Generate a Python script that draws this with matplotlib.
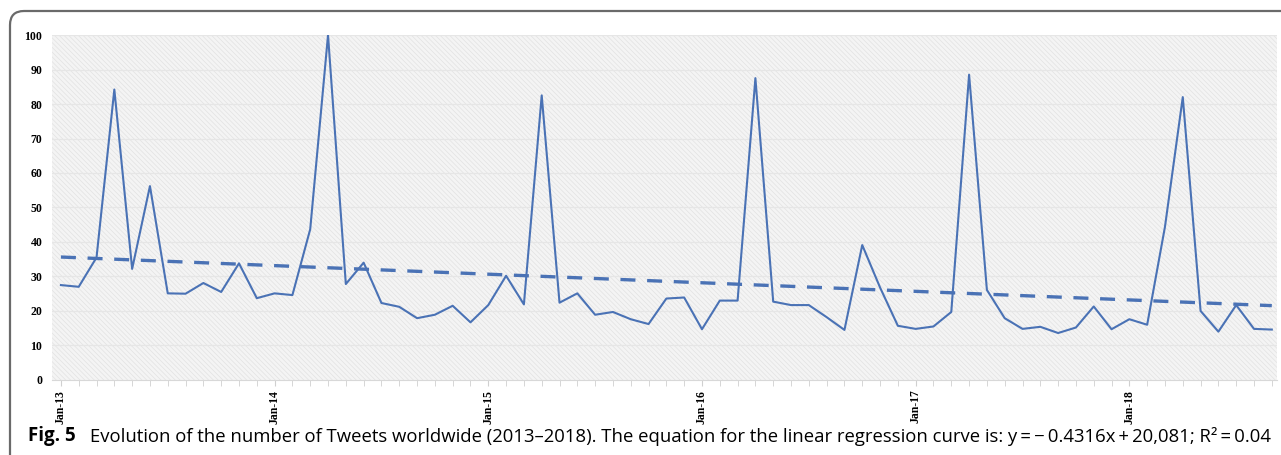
import numpy as np
import matplotlib.pyplot as plt
from matplotlib.patches import Rectangle, FancyBboxPatch
from matplotlib.transforms import IdentityTransform

# monthly values, Jan-13 .. Sep-18
tweets = [27.5, 27.0, 35.5, 84.2, 32.2, 56.2, 25.1, 25.0, 28.1, 25.5, 33.8, 23.7,
          25.1, 24.6, 43.7, 100.0, 27.8, 34.0, 22.3, 21.2, 17.9, 18.9, 21.5, 16.7,
          21.7, 30.2, 21.9, 82.5, 22.4, 25.1, 18.9, 19.7, 17.6, 16.2, 23.6, 23.9,
          14.7, 23.0, 23.0, 87.5, 22.7, 21.7, 21.7, 18.2, 14.5, 39.1, 26.8, 15.7,
          14.8, 15.5, 19.7, 88.5, 26.1, 17.9, 14.8, 15.4, 13.6, 15.2, 21.3, 14.7,
          17.6, 16.0, 44.4, 82.0, 20.0, 14.0, 21.7, 14.8, 14.6]
years = ["13", "14", "15", "16", "17", "18"]
year_labels = ["Jan-" + y for y in years]
caption_bold = "Fig. 5"
caption = ("Evolution of the number of Tweets worldwide (2013\u20132018). The equation for the "
           "linear regression curve is: y\u2009=\u2009\u2212\u20090.4316x\u2009+\u200920,081; "
           "R\u00b2\u2009=\u20090.04")

months = np.arange(len(tweets))
coef = np.polyfit(months, tweets, 1)
trend = np.polyval(coef, months)

plt.rcParams['hatch.linewidth'] = 0.5
fig = plt.figure(figsize=(12.81, 4.55), dpi=100)
ax = fig.add_axes([0.0406, 0.165, 0.9564, 0.758])

# hatched grey background
ax.set_facecolor("#f4f4f4")
ax.add_patch(Rectangle((0, 0), 1, 1, transform=ax.transAxes, facecolor="none",
                       edgecolor="#e2e2e2", hatch="\\\\\\\\\\\\\\", lw=0, zorder=0))
for v in range(10, 101, 10):
    ax.axhline(v, color="#e6e6e6", lw=0.9, zorder=1)

blue = "#4a72b5"
ax.plot(months, tweets, color=blue, lw=1.5, zorder=3)
ax.plot(months, trend, color=blue, lw=2.4, ls=(0, (4.5, 3.5)), zorder=3)

ax.set_xlim(-0.5, 68.3)
ax.set_ylim(0, 100)
ax.set_yticks(range(0, 101, 10))
ax.set_xticks(np.arange(0, len(tweets), 12))
ax.set_xticklabels(year_labels, rotation=90)
ax.set_xticks(months, minor=True)
for lab in ax.get_yticklabels() + ax.get_xticklabels():
    lab.set_fontfamily("Liberation Serif")
    lab.set_fontweight("bold")
    lab.set_fontsize(8.5)
ax.tick_params(axis="y", length=0, pad=7)
ax.tick_params(axis="x", which="both", length=4, color="#d0d0d0", pad=3)
for s in ["top", "right", "left"]:
    ax.spines[s].set_visible(False)
ax.spines["bottom"].set_color("#d8d8d8")

# rounded frame around the figure
frame = FancyBboxPatch((10, -30), 1300, 474, boxstyle="round,pad=0,rounding_size=14",
                       transform=IdentityTransform(), fill=False, edgecolor="#6a6a6a", lw=1.6)
fig.add_artist(frame)

fig.text(28 / 1281, 1 - 436 / 455, caption_bold, fontfamily="Open Sans", fontweight="bold",
         fontsize=13.5, va="center", ha="left")
fig.text(90 / 1281, 1 - 436 / 455, caption, fontfamily="Open Sans",
         fontsize=13.3, va="center", ha="left")

fig.savefig("out.png", dpi=100)
